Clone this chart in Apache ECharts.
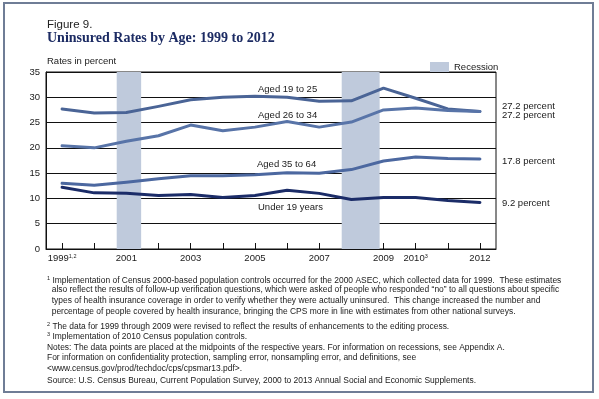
<!DOCTYPE html>
<html>
<head>
<meta charset="utf-8">
<script src="https://cdn.jsdelivr.net/npm/echarts@6/dist/echarts.min.js"></script>
<style>
html,body{margin:0;padding:0;background:#fff;}
#c{width:599px;height:399px;}
</style>
</head>
<body>
<div id="c"></div>
<script>
const years = [1999,2000,2001,2002,2003,2004,2005,2006,2007,2008,2009,2010,2011,2012];
const aged19to25 = [27.7,26.9,27.0,28.2,29.5,30.0,30.2,30.0,29.2,29.3,31.8,29.8,27.7,27.2];
const aged26to34 = [20.4,20.0,21.3,22.4,24.5,23.4,24.1,25.2,24.1,25.1,27.5,27.9,27.4,27.2];
const aged35to64 = [13.0,12.6,13.2,13.9,14.5,14.5,14.7,15.1,15.0,15.7,17.4,18.2,17.9,17.8];
const under19    = [12.2,11.1,11.0,10.6,10.8,10.2,10.6,11.6,11.0,9.8,10.2,10.2,9.6,9.2];
const labelYears = [1999,2001,2003,2005,2007,2009,2010,2012];
const labelSup = {1999:'1,2', 2010:'3'};
const recessions = [[2000.70,2001.46],[2007.70,2008.88]];

const pair = arr => years.map((y,i)=>[y,arr[i]]);
const chart = echarts.init(document.getElementById('c'), null, {renderer:'canvas'});
const sans = 'Liberation Sans';
const txt = '#1a1a1a';

function lineSeries(name, data, color){
  return {name, type:'line', data:pair(data), symbol:'none', smooth:false,
    lineStyle:{color, width:3, cap:'round', join:'round'}, itemStyle:{color}, z:3};
}

const foot = [
  ['{s|1}{t| Implementation of Census 2000-based population controls occurred for the 2000 ASEC, which collected data for 1999.  These estimates}', 280],
  ['{t|  also reflect the results of follow-up verification questions, which were asked of people who responded \u201cno\u201d to all questions about specific}', 291],
  ['{t|  types of health insurance coverage in order to verify whether they were actually uninsured.  This change increased the number and}', 302],
  ['{t|  percentage of people covered by health insurance, bringing the CPS more in line with estimates from other national surveys.}', 313],
  ['{s|2}{t| The data for 1999 through 2009 were revised to reflect the results of enhancements to the editing process.}', 326],
  ['{s|3}{t| Implementation of 2010 Census population controls.}', 336],
  ['{t|Notes: The data points are placed at the midpoints of the respective years. For information on recessions, see Appendix A.}', 349],
  ['{t|For information on confidentiality protection, sampling error, nonsampling error, and definitions, see}', 359],
  ['{t|<www.census.gov/prod/techdoc/cps/cpsmar13.pdf>.}', 370],
  ['{t|Source: U.S. Census Bureau, Current Population Survey, 2000 to 2013 Annual Social and Economic Supplements.}', 382]
];
const footRich = {t:{fontFamily:sans,fontSize:8.45,fill:txt}, s:{fontFamily:sans,fontSize:5.5,fill:txt,padding:[0,0,5,0]}};

const graphics = [
  {type:'rect', shape:{x:4,y:3,width:589,height:389}, style:{fill:'none',stroke:'#6f7d96',lineWidth:2}, z:-1},
  {type:'text', left:47, top:19, style:{text:'Figure 9.', fontFamily:sans, fontSize:11.5, fill:'#222'}},
  {type:'text', left:47, top:31, style:{text:'Uninsured Rates by Age: 1999 to 2012', fontFamily:'Liberation Serif', fontWeight:'bold', fontSize:14, fill:'#1c2b63'}},
  {type:'text', left:47, top:56, style:{text:'Rates in percent', fontFamily:sans, fontSize:9.5, fill:txt}},
  {type:'text', left:258, top:84, style:{text:'Aged 19 to 25', fontFamily:sans, fontSize:9.5, fill:txt}},
  {type:'text', left:258, top:110, style:{text:'Aged 26 to 34', fontFamily:sans, fontSize:9.5, fill:txt}},
  {type:'text', left:257, top:159, style:{text:'Aged 35 to 64', fontFamily:sans, fontSize:9.5, fill:txt}},
  {type:'text', left:258, top:202, style:{text:'Under 19 years', fontFamily:sans, fontSize:9.5, fill:txt}},
  {type:'text', left:502, top:101, style:{text:'27.2 percent', fontFamily:sans, fontSize:9.5, fill:txt}},
  {type:'text', left:502, top:110, style:{text:'27.2 percent', fontFamily:sans, fontSize:9.5, fill:txt}},
  {type:'text', left:502, top:156, style:{text:'17.8 percent', fontFamily:sans, fontSize:9.5, fill:txt}},
  {type:'text', left:502, top:198, style:{text:'9.2 percent', fontFamily:sans, fontSize:9.5, fill:txt}}
];
foot.forEach(([t,y])=>{
  graphics.push({type:'text', left:47, top:y-5, style:{text:t, rich:footRich}});
});

chart.setOption({
  animation:false,
  backgroundColor:'#fff',
  grid:{left:46, right:103, top:72, bottom:150, show:true, borderColor:'#111', borderWidth:1, backgroundColor:'transparent'},
  legend:{
    data:[{name:'Recession', icon:'rect'}],
    left:425, top:57, itemWidth:19, itemHeight:10, itemGap:4,
    textStyle:{fontFamily:sans, fontSize:9.5, color:txt}
  },
  xAxis:{
    type:'value', min:1998.5, max:2012.5,
    axisLine:{show:true, lineStyle:{color:'#111', width:1}},
    axisTick:{show:true, inside:true, length:6, customValues:years, lineStyle:{color:'#111'}},
    splitLine:{show:false},
    axisLabel:{
      customValues:labelYears, margin:4,
      formatter: v => labelSup[v] ? '{a|'+v+'}{s|'+labelSup[v]+'}' : '{a|'+v+'}',
      rich:{a:{fontFamily:sans, fontSize:9.5, color:txt}, s:{fontFamily:sans, fontSize:5.5, color:txt, padding:[0,0,5,0]}}
    }
  },
  yAxis:{
    type:'value', min:0, max:35, interval:5,
    axisLine:{show:true, lineStyle:{color:'#111'}},
    axisTick:{show:false},
    splitLine:{show:true, lineStyle:{color:'#111', width:1}},
    axisLabel:{fontFamily:sans, fontSize:9.5, color:txt, margin:6}
  },
  graphic:graphics,
  series:[
    {name:'Recession', type:'line', data:[], symbol:'none',
     itemStyle:{color:'#bfcadc'}, lineStyle:{color:'#bfcadc'},
     markArea:{silent:true, itemStyle:{color:'#bfcadc', opacity:1},
       data: recessions.map(r=>[{xAxis:r[0]},{xAxis:r[1]}])}, z:1},
    lineSeries('Aged 19 to 25', aged19to25, '#4a6496'),
    lineSeries('Aged 26 to 34', aged26to34, '#5874a8'),
    lineSeries('Aged 35 to 64', aged35to64, '#4c68a0'),
    lineSeries('Under 19 years', under19, '#1b2c68')
  ]
});
</script>
</body>
</html>
